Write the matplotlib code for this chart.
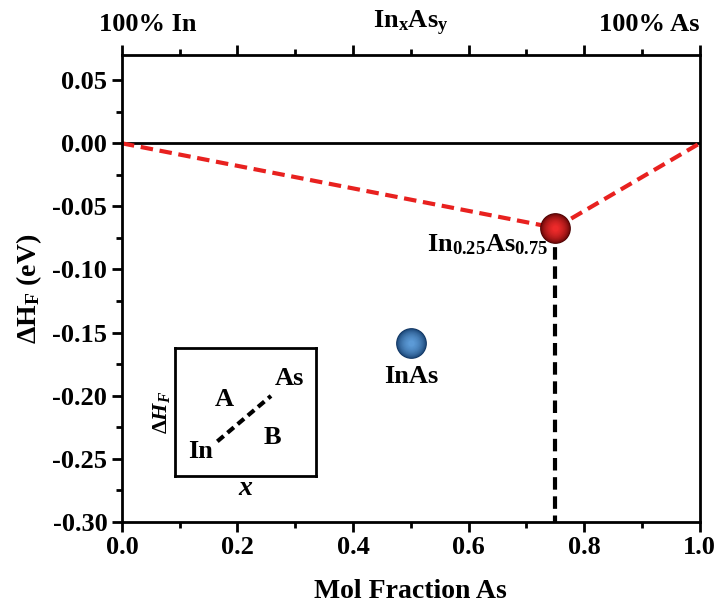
import numpy as np
import matplotlib
matplotlib.use('Agg')
import matplotlib.pyplot as plt
from matplotlib.ticker import MultipleLocator
from matplotlib.colors import to_rgb

plt.rcParams['font.family'] = 'Liberation Serif'
plt.rcParams['font.weight'] = 'bold'
plt.rcParams['mathtext.fontset'] = 'custom'
plt.rcParams['mathtext.rm'] = 'Liberation Serif:bold'
plt.rcParams['mathtext.bf'] = 'Liberation Serif:bold'
plt.rcParams['mathtext.it'] = 'Liberation Serif:italic:bold'

# data: convex hull of formation energy
hull_x = [0.0, 0.75, 1.0]
hull_y = [0.0, -0.067, 0.0]
stable_x = 0.75
stable_y = -0.067
other_x = 0.5
other_y = -0.158

fig = plt.figure(figsize=(7.17, 6.04), dpi=100)
ax = fig.add_axes([0.170, 0.136, 0.806, 0.773])

ax.axhline(0, color='black', lw=2, zorder=1)
ax.plot(hull_x, hull_y, color='#e8211f', lw=3, ls=(0, (3, 1.6)), zorder=2)
ax.plot([stable_x, stable_x], [stable_y, -0.30], color='black', lw=3,
        ls=(0, (3, 1.6)), zorder=1)


def sphere(x, y, dark, light):
    # fake shaded sphere with stacked circles, dark rim -> light core
    d = np.array(to_rgb(dark))
    l = np.array(to_rgb(light))
    n = 14
    for i in range(n):
        t = i / (n - 1)
        s = 470 * (1 - t) ** 1.3 + 20
        c = d + (l - d) * t ** 0.6
        ax.scatter([x], [y], s=s, color=c, zorder=5, linewidths=0)


sphere(stable_x, stable_y, '#4a0000', '#ec2a2a')
sphere(other_x, other_y, '#0c3260', '#5c9ad6')

ax.text(0.738, -0.071, 'In$_{0.25}$As$_{0.75}$', ha='right', va='top', fontsize=19)
ax.text(0.5, -0.176, 'InAs', ha='center', va='top', fontsize=19)

ax.set_xlim(0, 1.0)
ax.set_ylim(-0.30, 0.07)
ax.xaxis.set_minor_locator(MultipleLocator(0.1))
ax.yaxis.set_minor_locator(MultipleLocator(0.025))
ax.set_xticks(np.arange(0, 1.01, 0.2))
ax.set_xticklabels(['0.0', '0.2', '0.4', '0.6', '0.8', '1.0'])
ax.set_yticks(np.arange(-0.30, 0.051, 0.05))
ax.set_yticklabels(['-0.30', '-0.25', '-0.20', '-0.15', '-0.10', '-0.05', '0.00', '0.05'])
ax.tick_params(which='both', direction='out', top=True, right=False, width=2,
               labelsize=19)
ax.tick_params(which='major', length=7)
ax.tick_params(which='minor', length=4)
for sp in ax.spines.values():
    sp.set_linewidth(2)

ax.set_xlabel('Mol Fraction As', fontsize=20, fontweight='bold', labelpad=14)
ax.set_ylabel(r'$\Delta$H$_\mathbf{F}$ (eV)', fontsize=20, fontweight='bold', labelpad=6)

top_kw = dict(xycoords=('data', 'axes fraction'), textcoords='offset points',
              fontsize=19, va='bottom')
ax.annotate('100% In', (-0.04, 1.0), xytext=(0, 14), ha='left', **top_kw)
ax.annotate('In$_\\mathregular{x}$As$_\\mathregular{y}$', (0.5, 1.0), xytext=(0, 12), ha='center', **top_kw)
ax.annotate('100% As', (1.0, 1.0), xytext=(0, 14), ha='right', **top_kw)

# inset schematic
ins = fig.add_axes([0.244, 0.212, 0.197, 0.212])
ins.set_xlim(0, 1)
ins.set_ylim(0, 1)
ins.set_xticks([])
ins.set_yticks([])
for sp in ins.spines.values():
    sp.set_linewidth(2)
ins.plot([0.30, 0.68], [0.27, 0.625], color='black', lw=3, ls=(0, (2, 1.2)))
ins.text(0.18, 0.19, 'In', ha='center', va='center', fontsize=19)
ins.text(0.81, 0.76, 'As', ha='center', va='center', fontsize=19)
ins.text(0.35, 0.60, 'A', ha='center', va='center', fontsize=19)
ins.text(0.69, 0.30, 'B', ha='center', va='center', fontsize=19)
ins.set_xlabel(r'$x$', fontsize=20, labelpad=0)
ins.set_ylabel(r'$\Delta H_F$', fontsize=16, labelpad=2)

fig.savefig('out.png', dpi=100)
